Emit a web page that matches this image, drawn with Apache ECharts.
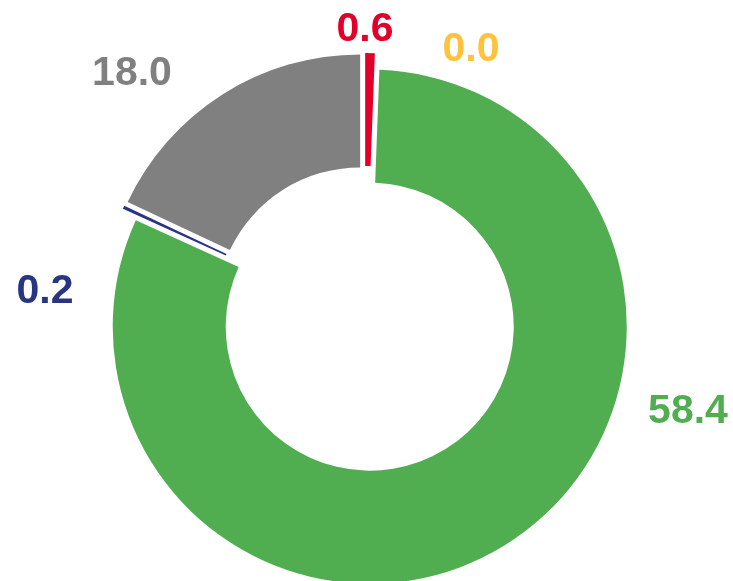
<!DOCTYPE html>
<html>
<head>
<meta charset="utf-8">
<script src="https://cdn.jsdelivr.net/npm/echarts@6/dist/echarts.min.js"></script>
<style>
  html, body { margin: 0; padding: 0; background: #fff; }
  #chart { width: 733px; height: 581px; }
</style>
</head>
<body>
<div id="chart"></div>
<script>
// share of the ring each slice takes, and the text printed beside it
var names = ['red', 'yellow', 'green', 'navy', 'gray'];
var shares = [0.6, 0.0, 81.2, 0.2, 18.0];
var labels = ['0.6', '0.0', '58.4', '0.2', '18.0'];

var colors = ['#E2002B', '#FFC23D', '#50AE50', '#283583', '#808080'];
// where the labels sit (centre of text), same order as above
var labelPos = [[365, 30], [471, 50], [688, 412], [45, 292], [132, 74]];

var chart = echarts.init(document.getElementById('chart'));

var data = names.map(function (n, i) {
  return {
    name: n,
    value: shares[i],
    selected: true,
    itemStyle: { color: colors[i] }
  };
});

// value labels, placed by hand like in the original
var texts = labels.map(function (t, i) {
  return {
    type: 'text',
    x: labelPos[i][0],
    y: labelPos[i][1],
    style: {
      text: t,
      fill: colors[i],
      font: 'bold 41px "Liberation Sans", Arial, sans-serif',
      align: 'center',
      verticalAlign: 'middle'
    }
  };
});

chart.setOption({
  animation: false,
  graphic: texts,
  series: [{
    type: 'pie',
    center: [365, 319],
    radius: [144, 257],
    startAngle: 90,
    clockwise: true,
    selectedMode: 'multiple',
    selectedOffset: 9,
    itemStyle: { borderWidth: 0 },
    label: { show: false },
    labelLine: { show: false },
    emphasis: { disabled: true },
    data: data
  }]
});
</script>
</body>
</html>
